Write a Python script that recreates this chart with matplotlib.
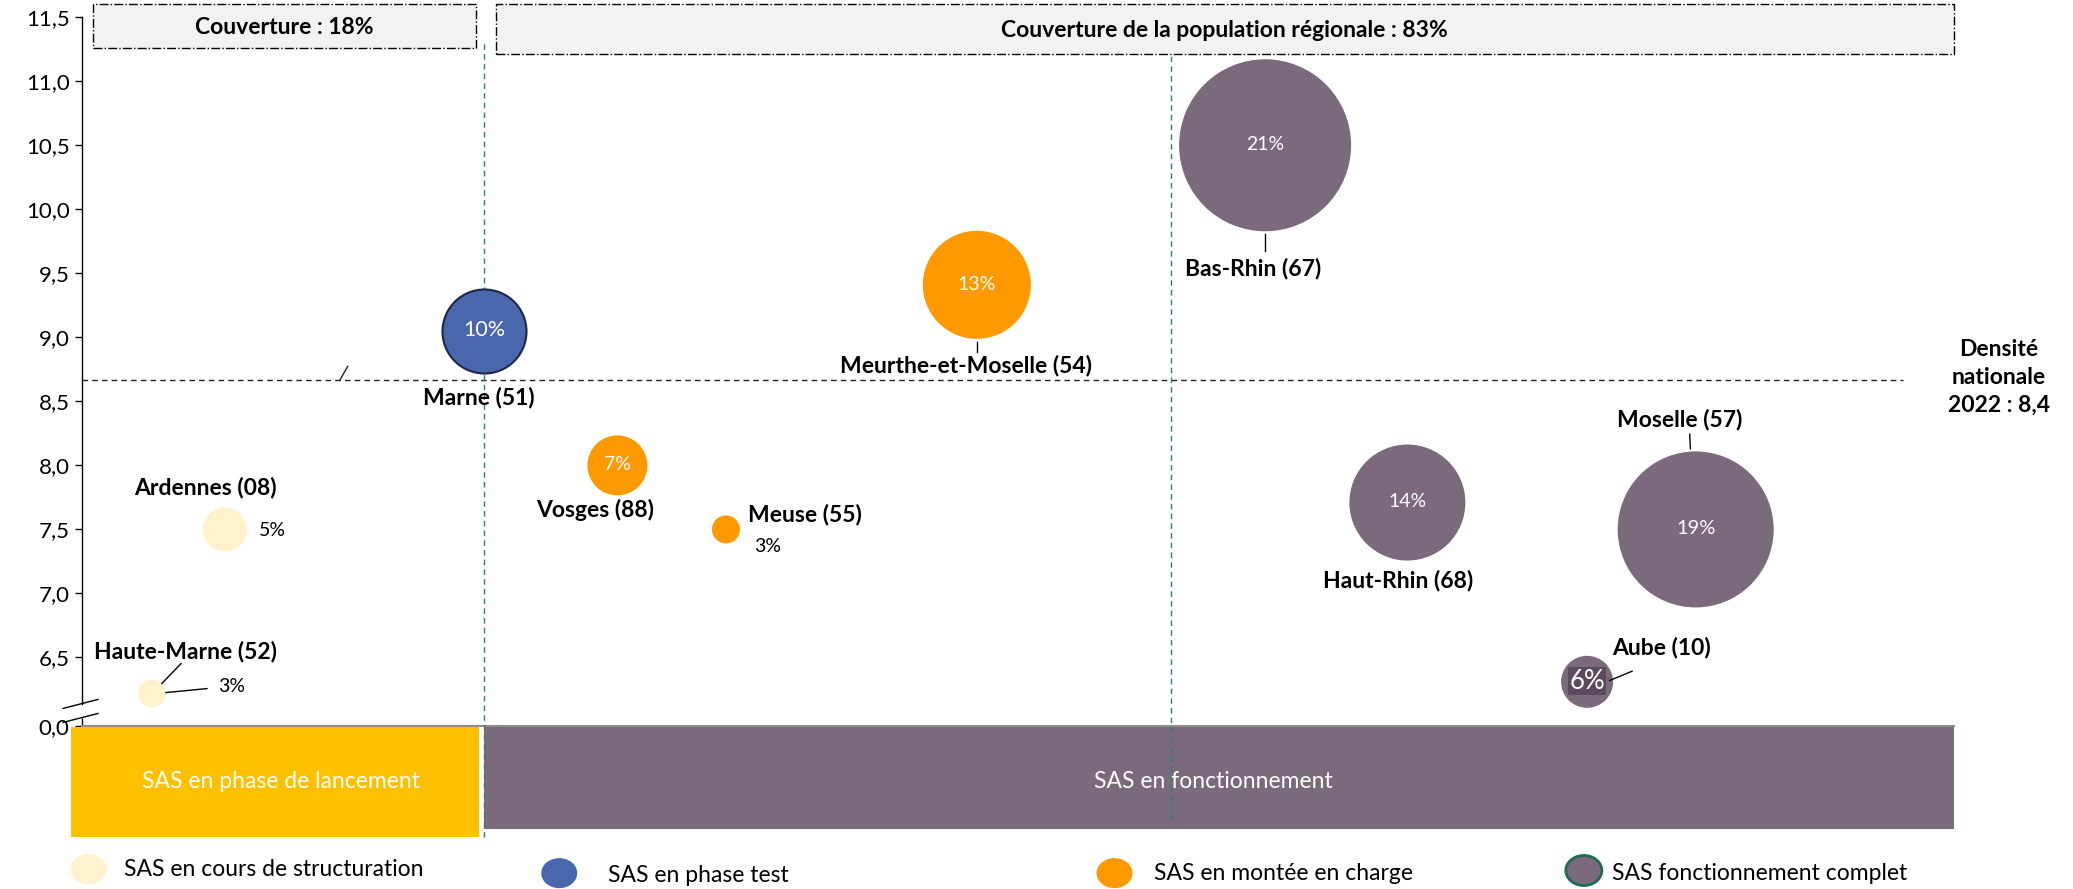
import matplotlib
matplotlib.use("Agg")
import matplotlib.pyplot as plt
from matplotlib.patches import Rectangle, Ellipse

plt.rcParams['font.family'] = ['Lato', 'DejaVu Sans']

# ---------------- data ----------------
departements = ["Haute-Marne (52)", "Ardennes (08)", "Marne (51)", "Vosges (88)",
                "Meuse (55)", "Meurthe-et-Moselle (54)", "Bas-Rhin (67)",
                "Haut-Rhin (68)", "Moselle (57)", "Aube (10)"]
x_pos = [3.74, 7.63, 21.5, 28.6, 34.4, 47.8, 63.2, 70.8, 86.2, 80.4]
densite = [6.22, 7.50, 9.05, 8.00, 7.50, 9.41, 10.50, 7.71, 7.50, 6.31]
couverture_pct = [3, 5, 10, 7, 3, 13, 21, 14, 19, 6]
statut = ["structuration", "structuration", "test", "montee", "montee", "montee",
          "complet", "complet", "complet", "complet"]

y_ticks = [6.5, 7.0, 7.5, 8.0, 8.5, 9.0, 9.5, 10.0, 10.5, 11.0, 11.5]
y_tick_labels = ["6,5", "7,0", "7,5", "8,0", "8,5", "9,0", "9,5", "10,0", "10,5", "11,0", "11,5"]
y_break = 5.963
y_break_label = "0,0"

densite_nationale = 8.665
densite_label = "Densité\nnationale\n2022 : 8,4"

phase_labels = ["SAS en phase de lancement", "SAS en fonctionnement"]
phase_start = [-0.57, 21.47]
phase_end = [21.19, 100.0]

separateurs = [21.5, 58.2]

box_labels = ["Couverture : 18%", "Couverture de la population régionale : 83%"]
box_start = [0.57, 22.1]
box_end = [21.05, 100.0]

legend_labels = ["SAS en cours de structuration", "SAS en phase test",
                 "SAS en montée en charge", "SAS fonctionnement complet"]
legend_keys = ["structuration", "test", "montee", "complet"]

colors = {"structuration": "#FFF2CC", "test": "#4A66AC", "montee": "#FF9900",
          "complet": "#7A6A7B"}
edges = {"structuration": "none", "test": "#1C2846", "montee": "none", "complet": "none"}

# ---------------- figure ----------------
W, H = 2073, 889
fig = plt.figure(figsize=(W / 100, H / 100), dpi=100)
ax = fig.add_axes([62 / 1568, 0, (1478 - 62) / 1568, 1])
ax.set_xlim(0, 100)
ax.set_ylim(11.5 - 659 / 96.8, 11.5 + 13 / 96.8)

PX_X = 1 / 14.16   # data x per displayed px
PX_Y = 1 / 96.8    # data y per displayed px
PT = 0.952         # points per displayed px

for s in ["top", "right", "bottom"]:
    ax.spines[s].set_visible(False)
ax.spines["left"].set_bounds(11.5 - (532 - 13) * PX_Y, 11.5)
ax.spines["left"].set_linewidth(1.0)
ax.set_xticks([])
ax.set_yticks([y_break] + y_ticks)
ax.set_yticklabels([y_break_label] + y_tick_labels)
ax.tick_params(axis="y", direction="out", length=5, width=1.0, labelsize=16,
               colors="black", pad=4)

# lower piece of axis + break marks
ax.plot([0, 0], [y_break, 11.5 - (543 - 13) * PX_Y], color="black", lw=1.0,
        clip_on=False, solid_capstyle="butt")
for off in [0, 10.6]:
    ax.plot([(47.7 - 62) * PX_X, (74.1 - 62) * PX_X],
            [11.5 - (535.5 + off - 13) * PX_Y, 11.5 - (528.7 + off - 13) * PX_Y],
            color="black", lw=1.0, clip_on=False)

# horizontal base line
ax.plot([0, 100], [y_break, y_break], color="#8C8C8C", lw=1.5, clip_on=False, zorder=3)

# phase bars
bar_top = [y_break - 0.002, y_break + 0.008]
bar_bot = [5.095, 5.157]
bar_col = ["#FFC000", "#7A6A7B"]
for i in range(2):
    ax.barh((bar_top[i] + bar_bot[i]) / 2, phase_end[i] - phase_start[i],
            left=phase_start[i], height=bar_top[i] - bar_bot[i],
            color=bar_col[i], clip_on=False, zorder=2)
    ax.text((phase_start[i] + phase_end[i]) / 2 + (0.3 if i == 0 else -0.3),
            11.5 - (591 - 13) * PX_Y, phase_labels[i], color="white",
            fontsize=16.5, ha="center", va="center", zorder=4)

# separators
sep_top = [11.5 - (30 - 13) * PX_Y, 11.5 - (41 - 13) * PX_Y]
sep_bot = [11.5 - (633 - 13) * PX_Y, 11.5 - (620 - 13) * PX_Y]
for i, xs in enumerate(separateurs):
    ax.plot([xs, xs], [sep_bot[i], sep_top[i]], color="#2F7E6E", lw=1.0,
            ls=(0, (4, 3)), clip_on=False, zorder=3)

# top boxes
box_top = [11.603, 11.603]
box_bot = [11.262, 11.21]
for i in range(2):
    ax.add_patch(Rectangle((box_start[i], box_bot[i]), box_end[i] - box_start[i],
                           box_top[i] - box_bot[i], facecolor="#F2F2F2",
                           edgecolor="black", lw=1.0, ls="-.", clip_on=False, zorder=3))
    ax.text((box_start[i] + box_end[i]) / 2, (box_top[i] + box_bot[i]) / 2 - 0.01,
            box_labels[i], fontsize=16.5, fontweight="bold", ha="center", va="center",
            zorder=4)

# national density line
ax.plot([0, 97.25], [densite_nationale, densite_nationale], color="#222222", lw=1.0,
        ls=(0, (4, 3)), zorder=2)
ax.plot([(257 - 62) * PX_X, (263 - 62) * PX_X],
        [densite_nationale, densite_nationale + 10.5 * PX_Y], color="#222222", lw=1.0)
ax.text(102.4, densite_nationale + 0.02, densite_label, fontsize=16.5, fontweight="bold",
        ha="center", va="center", linespacing=1.4, clip_on=False)

# bubbles
radius_px = [4.0 * p + 2 for p in couverture_pct]          # full-res px
sizes = [(2 * r * 0.72) ** 2 for r in radius_px]
for i in range(len(departements)):
    st = statut[i]
    lw = 1.5 if st == "test" else 0
    ax.scatter([x_pos[i]], [densite[i]], s=sizes[i], color=colors[st],
               edgecolors=edges[st], linewidths=lw, zorder=5)

# name labels: offsets in displayed px (dx right, dy up), alignment
name_off = [(25, 32, "center"), (-15, 32, "center"), (-4, -50, "center"),
            (-17, -34, "center"), (17, 11, "left"), (-8, -61, "center"),
            (-9, -93, "center"), (-7, -59, "center"), (-12, 83, "center"),
            (19, 26, "left")]
for i, name in enumerate(departements):
    dx, dy, ha = name_off[i]
    ax.annotate(name, (x_pos[i], densite[i]), xytext=(dx * PT, dy * PT),
                textcoords="offset points", fontsize=16.5, fontweight="bold",
                ha=ha, va="center", zorder=6)

# percentage labels
inside_size = {2: 15.5, 3: 14, 5: 14, 6: 14, 7: 14, 8: 14.5, 9: 18.5}
outside = {0: (50, 5), 1: (26, -1), 4: (21, -13)}
for i, p in enumerate(couverture_pct):
    txt = f"{p}%"
    if i in outside:
        dx, dy = outside[i]
        ax.annotate(txt, (x_pos[i], densite[i]), xytext=(dx * PT, dy * PT),
                    textcoords="offset points", fontsize=14, ha="left",
                    va="center", zorder=6)
    else:
        bbox = None
        if i == 9:
            bbox = dict(boxstyle="square,pad=0.06", facecolor="#5A4C5D", edgecolor="none")
        ax.annotate(txt, (x_pos[i], densite[i]), xytext=(0, 0.5),
                    textcoords="offset points", fontsize=inside_size[i],
                    color="white", ha="center", va="center", zorder=6, bbox=bbox)

# leader lines (displayed px relative to bubble centre, y up)
leaders = {0: [((7.5, 7.5), (22, 22.5)), ((10.6, 0.6), (41.6, 3.6))],
           5: [((0, -43), (0, -51))],
           6: [((0, -67), (0, -80))],
           8: [((-4.5, 72), (-4, 61))],
           9: [((17, 1), (34, 8))]}
for i, segs in leaders.items():
    for (a, b), (c, d) in segs:
        ax.plot([x_pos[i] + a * PX_X, x_pos[i] + c * PX_X],
                [densite[i] + b * PX_Y, densite[i] + d * PX_Y],
                color="black", lw=1.0, zorder=6)

# legend
leg_x = [67, 423, 843, 1198]
leg_y = [657, 660, 660, 658]
leg_tx = [94, 460, 873, 1219]
leg_ty = [657, 662, 660, 660]
for i, key in enumerate(legend_keys):
    ec = "#1E6B50" if key == "complet" else "none"
    ax.add_patch(Ellipse(((leg_x[i] - 62) * PX_X, 11.5 - (leg_y[i] - 13) * PX_Y),
                         width=36 / 1.322 * PX_X, height=30 / 1.322 * PX_Y,
                         facecolor=colors[key], edgecolor=ec, lw=2 if ec != "none" else 0,
                         clip_on=False, zorder=5))
    ax.text((leg_tx[i] - 62) * PX_X, 11.5 - (leg_ty[i] - 13) * PX_Y, legend_labels[i],
            fontsize=16.5, ha="left", va="center", clip_on=False)

fig.savefig("out.png", dpi=100)
